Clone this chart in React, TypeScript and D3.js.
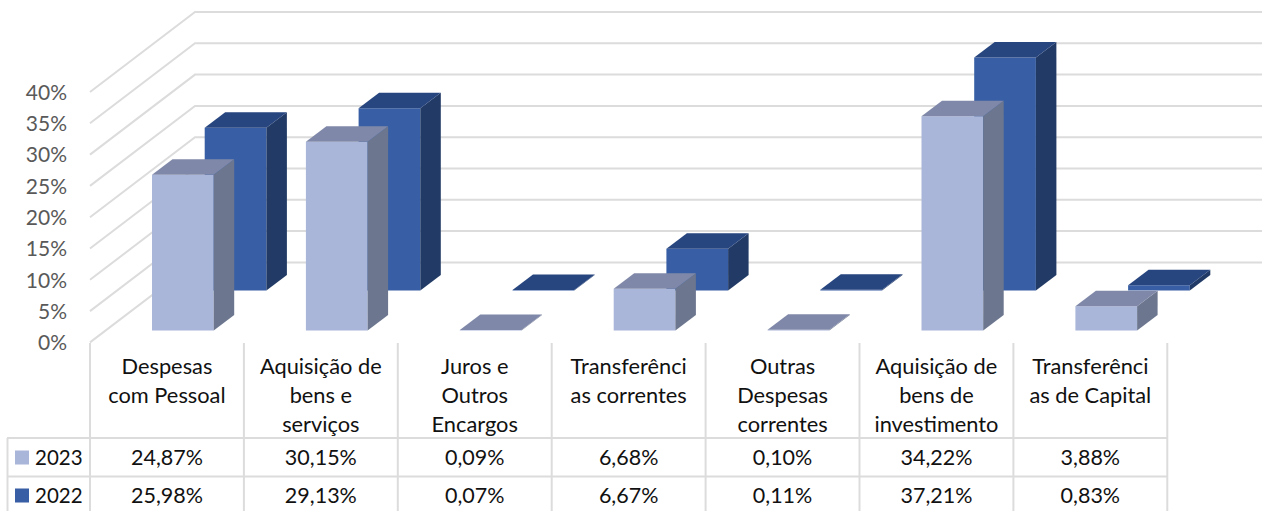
import React from 'react';
import { scaleBand, scaleLinear, line } from 'd3';

const categories = [
  ['Despesas', 'com Pessoal'],
  ['Aquisição de', 'bens e', 'serviços'],
  ['Juros e', 'Outros', 'Encargos'],
  ['Transferênci', 'as correntes'],
  ['Outras', 'Despesas', 'correntes'],
  ['Aquisição de', 'bens de', 'investimento'],
  ['Transferênci', 'as de Capital'],
];
const values2023 = [24.87, 30.15, 0.09, 6.68, 0.1, 34.22, 3.88];
const values2022 = [25.98, 29.13, 0.07, 6.67, 0.11, 37.21, 0.83];
const labels2023 = ['24,87%', '30,15%', '0,09%', '6,68%', '0,10%', '34,22%', '3,88%'];
const labels2022 = ['25,98%', '29,13%', '0,07%', '6,67%', '0,11%', '37,21%', '0,83%'];
const yTicks = [0, 5, 10, 15, 20, 25, 30, 35, 40];

const font = 'Lato, Carlito, sans-serif';
const gridColor = '#dcdcdc';

const x = scaleBand<number>().domain(categories.map((c, i) => i)).range([90, 1167.3]);
// value to height above the floor
const h = scaleLinear().domain([0, 40]).range([0, 250.4]);
const axisY = scaleLinear().domain([0, 40]).range([342.4, 92]);

const wallDx = 105;
const wallDy = 80;
const barW = 61.7;
const depthX = 20.5;
const depthY = 15.5;
const path = line();

const series = [
  { name: '2022', values: values2022, labels: labels2022, offX: 114.7, floor: 290.5, front: '#385fa5', side: '#223b66', top: '#27457f', rowY: 495.5 },
  { name: '2023', values: values2023, labels: labels2023, offX: 62, floor: 330.5, front: '#a9b6da', side: '#6c778f', top: '#7f88a8', rowY: 457.5 },
];

const Bar = ({ left, floor, height, s }) => {
  const r = left + barW;
  const t = floor - height;
  return (
    <g>
      <path d={path([[left, t], [r, t], [r, floor], [left, floor]]) + 'Z'} fill={s.front} />
      <path d={path([[r, t], [r + depthX, t - depthY], [r + depthX, floor - depthY], [r, floor]]) + 'Z'} fill={s.side} />
      <path d={path([[left, t], [r, t], [r + depthX, t - depthY], [left + depthX, t - depthY]]) + 'Z'} fill={s.top} />
    </g>
  );
};

export default function App() {
  const gridEnd = 1262;
  const rowLines = [438, 476.5, 513];
  const tableBottom = 513;
  return (
    <svg width={1262} height={511} style={{ position: 'absolute', left: 0, top: 0, background: '#fff' }}>
      {/* walls */}
      {yTicks.map((t) => (
        <polyline
          key={t}
          points={`90,${axisY(t)} ${90 + wallDx},${axisY(t) - wallDy} ${gridEnd},${axisY(t) - wallDy}`}
          fill="none"
          stroke={gridColor}
          strokeWidth={2}
        />
      ))}
      {yTicks.map((t) => (
        <text key={t} x={67} y={axisY(t) + 0.5} dy="0.35em" textAnchor="end" fontFamily={font} fontSize={21} fill="#595959">
          {t}%
        </text>
      ))}

      {series.map((s) => (
        <g key={s.name}>
          {s.values.map((v, i) => (
            <Bar key={i} left={x(i) + s.offX} floor={s.floor} height={h(v)} s={s} />
          ))}
        </g>
      ))}

      {/* data table */}
      {[...categories.map((c, i) => x(i)), x.range()[1]].map((vx, i) => (
        <line key={i} x1={vx} x2={vx} y1={343} y2={tableBottom} stroke={gridColor} strokeWidth={2} />
      ))}
      <line x1={7.5} x2={7.5} y1={438} y2={tableBottom} stroke={gridColor} strokeWidth={2} />
      {rowLines.map((y) => (
        <line key={y} x1={7} x2={x.range()[1]} y1={y} y2={y} stroke={gridColor} strokeWidth={2} />
      ))}
      {categories.map((lines, i) =>
        lines.map((l, j) => (
          <text key={l + j} x={x(i) + x.bandwidth() / 2} y={366.5 + j * 28.7} dy="0.35em" textAnchor="middle" fontFamily={font} fontSize={21.8} fill="#111">
            {l}
          </text>
        ))
      )}
      {series.map((s) => (
        <g key={s.name}>
          <rect x={15} y={s.rowY - 7} width={14} height={14} fill={s.front} />
          <text x={35} y={s.rowY} dy="0.35em" fontFamily={font} fontSize={20.5} fill="#111">{s.name}</text>
          {s.labels.map((l, i) => (
            <text key={i} x={x(i) + x.bandwidth() / 2} y={s.rowY} dy="0.35em" textAnchor="middle" fontFamily={font} fontSize={21.5} fill="#111">
              {l}
            </text>
          ))}
        </g>
      ))}
    </svg>
  );
}
